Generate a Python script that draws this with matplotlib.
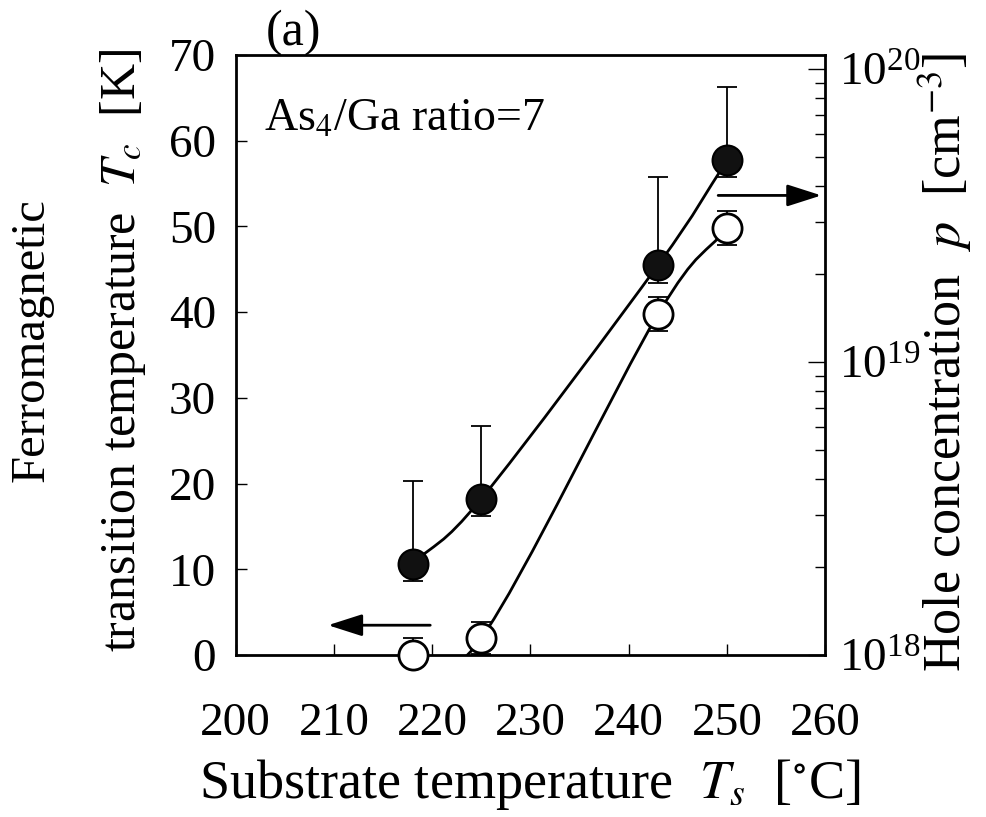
import numpy as np
import matplotlib
matplotlib.use("Agg")
import matplotlib.pyplot as plt
from matplotlib.path import Path
from matplotlib.patches import PathPatch
from matplotlib.ticker import LogLocator, NullFormatter

plt.rcParams['font.family'] = ['Liberation Serif', 'DejaVu Serif']
plt.rcParams['mathtext.fontset'] = 'stix'

# substrate temperature Ts [C]
ts = [218, 225, 243, 250]

# open circles: Curie temperature Tc [K] (left axis)
tc = [0.0, 2.0, 39.8, 49.8]
tc_err = [2.0, 1.9, 2.0, 2.0]

# filled circles: hole concentration p [cm^-3] (right axis)
p = [2.05e18, 3.42e18, 2.15e19, 4.88e19]
p_lo = [1.79e18, 2.99e18, 1.86e19, 4.30e19]
p_hi = [3.94e18, 6.04e18, 4.27e19, 8.67e19]


def smooth_path(x, y):
    # catmull-rom through the points, written as cubic bezier segments
    pts = np.column_stack([x, y]).astype(float)
    n = len(pts)
    tang = np.zeros_like(pts)
    tang[0] = pts[1] - pts[0]
    tang[-1] = pts[-1] - pts[-2]
    for i in range(1, n - 1):
        tang[i] = (pts[i + 1] - pts[i - 1]) / 2
    verts = [pts[0]]
    codes = [Path.MOVETO]
    for i in range(n - 1):
        verts += [pts[i] + tang[i] / 3, pts[i + 1] - tang[i + 1] / 3, pts[i + 1]]
        codes += [Path.CURVE4] * 3
    return np.array(verts), codes


fig = plt.figure(figsize=(9.86, 8.17), dpi=100)
ax = fig.add_axes([0.239, 0.198, 0.598, 0.735])
ax2 = ax.twinx()

# Tc curve (left axis)
v, c = smooth_path(ts, tc)
ax.add_patch(PathPatch(Path(v, c), fill=False, lw=2, color='black', zorder=3))
ax.errorbar(ts, tc, yerr=tc_err, fmt='none', ecolor='black', elinewidth=1.3,
            capsize=7, capthick=1.3, zorder=4)
ax.plot(ts, tc, 'o', ms=21, mfc='white', mec='black', mew=2, zorder=5, clip_on=False)

# p curve (right axis, log)
v, c = smooth_path(ts, np.log10(p))
v[:, 1] = 10 ** v[:, 1]
ax2.add_patch(PathPatch(Path(v, c), fill=False, lw=2, color='black', zorder=3))
p_arr = np.array(p)
ax2.errorbar(ts, p, yerr=[p_arr - np.array(p_lo), np.array(p_hi) - p_arr], fmt='none',
             ecolor='black', elinewidth=1.3, capsize=7, capthick=1.3, zorder=4)
ax2.plot(ts, p, 'o', ms=21.5, mfc='#111111', mec='black', mew=1.5, zorder=5)

ax.set_xlim(200, 260)
ax.set_ylim(0, 70)
ax.set_xticks(range(200, 261, 10))
ax.set_yticks(range(0, 71, 10))
ax2.set_yscale('log')
ax2.set_ylim(1e18, 1.12e20)
ax2.yaxis.set_major_locator(LogLocator(base=10, numticks=5))
ax2.yaxis.set_minor_locator(LogLocator(base=10, subs=np.arange(2, 10), numticks=20))
ax2.yaxis.set_minor_formatter(NullFormatter())

for s in ax.spines.values():
    s.set_linewidth(2)
for s in ax2.spines.values():
    s.set_visible(False)

ax.tick_params(direction='in', length=8, width=1, labelsize=34)
ax.tick_params(axis='x', pad=34)
ax.tick_params(axis='y', pad=14)
ax2.tick_params(which='major', direction='in', length=12, width=1, labelsize=34, pad=10)
ax2.tick_params(which='minor', direction='in', length=7, width=1)

# arrows pointing to each axis
arrow = dict(arrowstyle='-|>,head_length=1,head_width=0.32', lw=2, color='black',
             shrinkA=0, shrinkB=0, mutation_scale=21)
ax.annotate('', xy=(209.4, 3.5), xytext=(219.8, 3.5), arrowprops=arrow)
ax.annotate('', xy=(259.6, 53.6), xytext=(249.1, 53.6), arrowprops=arrow)

ax.text(202.9, 62.5, 'As$_4$/Ga ratio=7', fontsize=33, ha='left', va='center')
fig.text(293 / 986, 1 - 33 / 817, '(a)', fontsize=36, ha='center', va='center')

fig.text(32 / 986, 1 - 340 / 817, 'Ferromagnetic', fontsize=35, rotation=90,
         ha='center', va='center')
fig.text(123 / 986, 1 - 350 / 817, 'transition temperature  $T_c$  [K]', fontsize=36,
         rotation=90, ha='center', va='center')
fig.text(945 / 986, 1 - 362 / 817, 'Hole concentration  $p$  [cm$^{-3}$]', fontsize=37.5,
         rotation=90, ha='center', va='center')
fig.text(530 / 986, 1 - 785 / 817, 'Substrate temperature  $T_s$  [$^{\\circ}$C]',
         fontsize=39, ha='center', va='center')

fig.savefig('out.png', dpi=100)
